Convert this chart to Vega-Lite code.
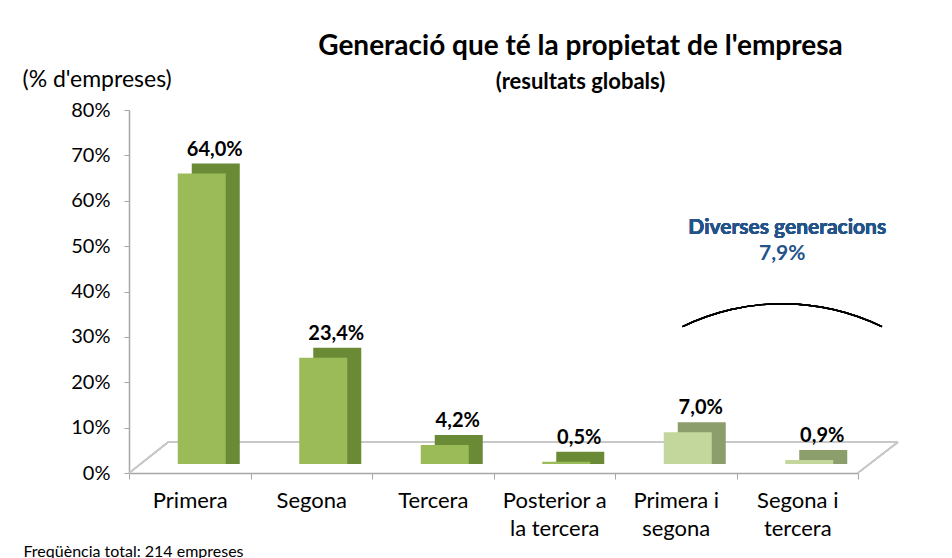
{
  "$schema": "https://vega.github.io/schema/vega-lite/v6.json",
  "autosize": "none",
  "width": 729,
  "height": 363,
  "padding": {"left": 129, "top": 110, "right": 94, "bottom": 85},
  "background": "white",
  "config": {
    "font": "Lato",
    "view": {"stroke": null},
    "locale": {"number": {"decimal": ",", "thousands": ".", "grouping": [3], "currency": ["", " €"]}}
  },
  "title": {
    "text": "Generació que té la propietat de l'empresa",
    "subtitle": "(resultats globals)",
    "anchor": "middle",
    "frame": "group",
    "dx": 87,
    "offset": -25,
    "font": "Lato",
    "fontSize": 28,
    "fontWeight": "bold",
    "color": "black",
    "subtitleFont": "Lato",
    "subtitleFontSize": 22,
    "subtitleFontWeight": "bold",
    "subtitleColor": "black",
    "subtitlePadding": 11
  },
  "data": {
    "values": [
      {"cat": "Primera", "pct": 0.640, "grup": "Una"},
      {"cat": "Segona", "pct": 0.234, "grup": "Una"},
      {"cat": "Tercera", "pct": 0.042, "grup": "Una"},
      {"cat": "Posterior a la tercera", "pct": 0.005, "grup": "Una"},
      {"cat": "Primera i segona", "pct": 0.070, "grup": "Diverses"},
      {"cat": "Segona i tercera", "pct": 0.009, "grup": "Diverses"}
    ]
  },
  "encoding": {
    "x": {
      "field": "cat",
      "type": "nominal",
      "sort": null,
      "scale": {
        "domain": ["Primera", "Segona", "Tercera", "Posterior a la tercera", "Primera i segona", "Segona i tercera"],
        "paddingInner": 0,
        "paddingOuter": 0
      },
      "axis": {
        "title": "Freqüència total: 214 empreses",
        "titleX": -106,
        "titleY": 78,
        "titleAlign": "left",
        "titleAnchor": null,
        "titleBaseline": "middle",
        "titleFont": "Lato",
        "titleFontSize": 16,
        "titleFontWeight": "normal",
        "titleColor": "black",
        "labelAngle": 0,
        "labelFont": "Lato",
        "labelFontSize": 22,
        "labelColor": "black",
        "labelPadding": 11,
        "labelLineHeight": 28,
        "labelExpr": "datum.value == 'Posterior a la tercera' ? ['Posterior a', 'la tercera'] : datum.value == 'Primera i segona' ? ['Primera i', 'segona'] : datum.value == 'Segona i tercera' ? ['Segona i', 'tercera'] : datum.value",
        "tickBand": "extent",
        "tickSize": 6,
        "tickColor": "#A6A6A6",
        "domainColor": "#A6A6A6",
        "domainWidth": 1.5
      }
    }
  },
  "layer": [
    {
      "mark": {"type": "rule", "color": "#C8C8C8", "strokeWidth": 1.5, "xOffset": -21.6, "x2Offset": 100.6},
      "encoding": {
        "x": {"datum": "Primera"},
        "x2": {"datum": "Segona i tercera"},
        "y": {"datum": 0.068, "type": "quantitative"}
      }
    },
    {
      "mark": {"type": "rule", "color": "#C8C8C8", "strokeWidth": 1.5, "xOffset": -60.6, "x2Offset": -21.6},
      "encoding": {
        "x": {"datum": "Primera"},
        "x2": {"datum": "Primera"},
        "y": {"datum": 0, "type": "quantitative"},
        "y2": {"datum": 0.068}
      }
    },
    {
      "mark": {"type": "rule", "color": "#C8C8C8", "strokeWidth": 1.5, "xOffset": 60.6, "x2Offset": 100.6},
      "encoding": {
        "x": {"datum": "Segona i tercera"},
        "x2": {"datum": "Segona i tercera"},
        "y": {"datum": 0, "type": "quantitative"},
        "y2": {"datum": 0.068}
      }
    },
    {
      "mark": {"type": "bar", "width": 48, "xOffset": 26, "yOffset": -19, "y2Offset": -9},
      "encoding": {
        "y": {
          "field": "pct",
          "type": "quantitative",
          "stack": null,
          "scale": {"domain": [0, 0.8]},
          "axis": {
            "values": [0, 0.1, 0.2, 0.3, 0.4, 0.5, 0.6, 0.7, 0.8],
            "format": ".0%",
            "grid": false,
            "title": "(% d'empreses)",
            "titleAngle": 0,
            "titleX": -107,
            "titleY": -31,
            "titleAlign": "left",
            "titleBaseline": "middle",
            "titleFont": "Lato",
            "titleFontSize": 23,
            "titleFontWeight": "normal",
            "titleColor": "black",
            "labelFont": "Lato",
            "labelFontSize": 20,
            "labelColor": "black",
            "labelPadding": 14,
            "tickSize": 5,
            "tickColor": "#A6A6A6",
            "domainColor": "#A6A6A6",
            "domainWidth": 1.5
          }
        },
        "y2": {"datum": 0},
        "color": {
          "condition": {"test": "datum.grup == 'Diverses'", "value": "#8C9E6B"},
          "value": "#6B8A36"
        }
      }
    },
    {
      "mark": {"type": "bar", "width": 48, "xOffset": 12, "yOffset": -9, "y2Offset": -9},
      "encoding": {
        "y": {"field": "pct", "type": "quantitative", "stack": null},
        "y2": {"datum": 0},
        "color": {
          "condition": {"test": "datum.grup == 'Diverses'", "value": "#C3D69B"},
          "value": "#9BBB59"
        }
      }
    },
    {
      "mark": {"type": "text", "dx": 25, "dy": -27, "baseline": "alphabetic", "font": "Lato", "fontSize": 20, "fontWeight": "bold", "color": "black"},
      "encoding": {
        "y": {"field": "pct", "type": "quantitative"},
        "text": {"field": "pct", "type": "quantitative", "format": ".1%"}
      }
    },
    {
      "mark": {"type": "text", "text": "Diverses generacions", "dx": -10, "baseline": "middle", "font": "Lato", "fontSize": 21, "fontWeight": "bold", "color": "#24538A"},
      "encoding": {
        "x": {"datum": "Segona i tercera"},
        "y": {"datum": 0.54, "type": "quantitative"}
      }
    },
    {
      "transform": [
        {"filter": "datum.grup == 'Diverses'"},
        {"aggregate": [{"op": "sum", "field": "pct", "as": "total"}]}
      ],
      "mark": {"type": "text", "dx": -15, "baseline": "middle", "font": "Lato", "fontSize": 21, "fontWeight": "bold", "color": "#24538A"},
      "encoding": {
        "x": {"datum": "Segona i tercera"},
        "y": {"datum": 0.482, "type": "quantitative"},
        "text": {"field": "total", "type": "quantitative", "format": ".1%"}
      }
    },
    {
      "mark": {"type": "arc", "radius": 229, "radius2": 227.6, "theta": -0.452, "theta2": 0.452, "xOffset": -15, "color": "black"},
      "encoding": {
        "x": {"datum": "Segona i tercera"},
        "y": {"datum": -0.13, "type": "quantitative"}
      }
    }
  ]
}
